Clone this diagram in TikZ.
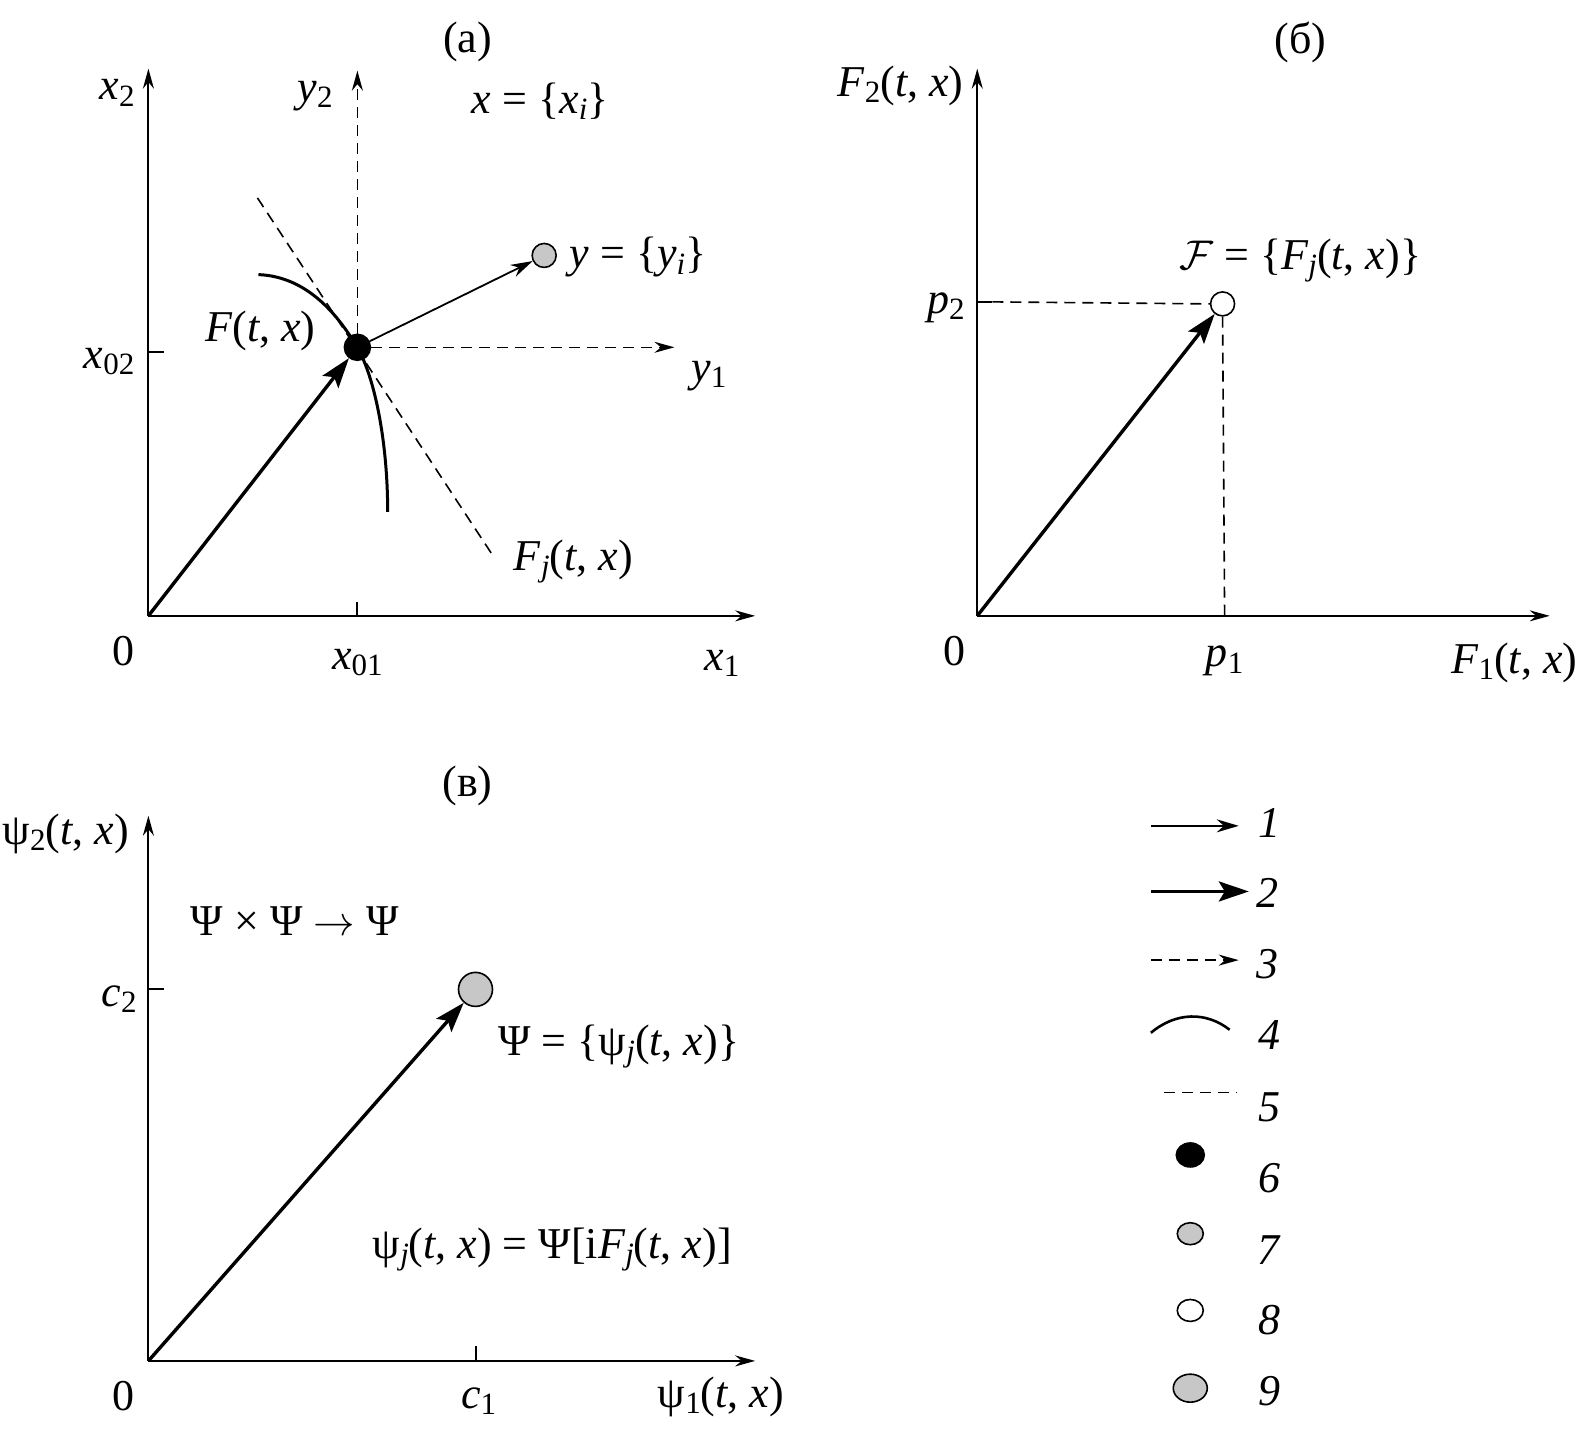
\documentclass[tikz,border=0pt]{standalone}
\usepackage{fontspec}
\setmainfont{Liberation Serif}
\usetikzlibrary{arrows.meta,shapes.geometric}
\newcommand\mi[1]{\textit{#1}}
\newcommand\sbs[1]{\raisebox{-0.3ex}{\fontsize{15.5}{17}\selectfont #1}}
\definecolor{dotgray}{gray}{0.78}
\begin{document}
\begin{tikzpicture}[x=0.5048pt,y=-0.5048pt,
  font=\fontsize{22}{25}\selectfont,
  axis/.style={line width=1pt,-{Stealth[length=10pt,width=5.5pt]}},
  thinarr/.style={line width=0.9pt,-{Stealth[length=11pt,width=6.5pt]}},
  thickarr/.style={line width=1.7pt,-{Stealth[length=15pt,width=10pt,inset=3pt]}},
  dsh/.style={line width=0.8pt,dash pattern=on 5.5pt off 3.5pt},
  dsharr/.style={dsh,-{Stealth[length=10pt,width=5.5pt]}},
  curv/.style={line width=1.5pt},
  bdot/.style={circle,draw,fill=black,line width=0.8pt,inner sep=0pt,minimum size=13pt},
  gdot/.style={circle,draw,fill=dotgray,line width=0.8pt,inner sep=0pt,minimum size=12pt},
  wdot/.style={circle,draw,fill=white,line width=0.8pt,inner sep=0pt,minimum size=12pt},
  bgdot/.style={circle,draw,fill=dotgray,line width=0.8pt,inner sep=0pt,minimum size=17pt},
  leg/.style={ellipse,draw,line width=0.8pt,inner sep=0pt},
  lbl/.style={inner sep=0pt}
]
\useasboundingbox (0,0) rectangle (1568,1433);

% ---------------- panel (a)
\node[lbl] (ta) at (463,42) {(а)};
\coordinate (Oa) at (147,610);
\coordinate (Xa) at (748,610);
\coordinate (Ya) at (147,68);
\draw[axis] (Oa) -- (Xa);
\draw[axis] (Oa) -- (Ya);
\draw[line width=1pt] (147,349) -- (162,349);
\draw[line width=1pt] (354,610) -- (354,596);
\coordinate (Ta) at (255,196);
\coordinate (Tb) at (488,550);
\draw[dsh] (Ta) -- (Tb);
\draw[curv] (256,272) .. controls (308,274) and (338,318) .. (354,344)
            .. controls (372,376) and (384,440) .. (384,507);
\node[bdot] (P) at (354,344) {};
\node[gdot] (Q) at (539,253) {};
\coordinate (Y2) at (354,70);
\coordinate (Y1) at (668,344);
\draw[dsharr] (P) -- (Y2);
\draw[dsharr] (P) -- (Y1);
\draw[thinarr] (P) -- (Q);
\draw[thickarr] (Oa) -- (P);
\node[lbl] (lx2) at (116,92) {\mi{x}\sbs{2}};
\node[lbl] (ly2) at (312,95) {\mi{y}\sbs{2}};
\node[lbl] (lxx) at (535,100) {\mi{x} = \{\mi{x}\sbs{\mi{i}}\}};
\node[lbl] (lyy) at (632,255) {\mi{y} = \{\mi{y}\sbs{\mi{i}}\}};
\node[lbl] (lF) at (258,328) {\mi{F}(\mi{t}, \mi{x})};
\node[lbl] (lx02) at (108,358) {\mi{x}\sbs{02}};
\node[lbl] (ly1) at (702,373) {\mi{y}\sbs{1}};
\node[lbl] (lFj) at (568,556) {\mi{F}\sbs{\mi{j}}(\mi{t}, \mi{x})};
\node[lbl] (l0a) at (122,645) {0};
\node[lbl] (lx01) at (354,656) {\mi{x}\sbs{01}};
\node[lbl] (lx1) at (715,657) {\mi{x}\sbs{1}};

% ---------------- panel (b)
\node[lbl] (tb) at (1288,42) {(б)};
\coordinate (Ob) at (968,610);
\coordinate (Xb) at (1535,610);
\coordinate (Yb) at (968,68);
\draw[axis] (Ob) -- (Xb);
\draw[axis] (Ob) -- (Yb);
\coordinate (p2t) at (968,299);
\coordinate (p1t) at (1213,610);
\node[wdot] (R) at (1211,301) {};
\draw[line width=1pt] (p2t) -- ++(15,0) coordinate (p2e);
\draw[dsh] (p2e) -- (R.west);
\draw[dsh] (R.south) -- (p1t);
\draw[thickarr] (Ob) -- (R);
\node[lbl] (lF2) at (892,85) {\mi{F}\sbs{2}(\mi{t}, \mi{x})};
\node[lbl] (l0b) at (945,645) {0};
\node[lbl] (lp1) at (1213,655) {\mi{p}\sbs{1}};
\node[lbl] (lF1) at (1500,657) {\mi{F}\sbs{1}(\mi{t}, \mi{x})};
\node[lbl] (lp2) at (937,305) {\mi{p}\sbs{2}};
\node[lbl] (lFF) at (1288,258) {$\mathcal{F}$ = \{\mi{F}\sbs{\mi{j}}(\mi{t}, \mi{x})\}};

% ---------------- panel (c)
\node[lbl] (tc) at (463,778) {(в)};
\coordinate (Oc) at (147,1348);
\coordinate (Xc) at (748,1348);
\coordinate (Yc) at (147,808);
\draw[axis] (Oc) -- (Xc);
\draw[axis] (Oc) -- (Yc);
\draw[line width=1pt] (147,980) -- (162,980);
\draw[line width=1pt] (471,1348) -- (471,1333);
\node[bgdot] (S) at (471,980) {};
\draw[thickarr] (Oc) -- (S);
\node[lbl] (lpsi2) at (65,826) {ψ\sbs{2}(\mi{t}, \mi{x})};
\node[lbl] (l0c) at (122,1383) {0};
\node[lbl] (lc1) at (474,1388) {\mi{c}\sbs{1}};
\node[lbl] (lpsi1) at (714,1384) {ψ\sbs{1}(\mi{t}, \mi{x})};
\node[lbl] (lc2) at (118,990) {\mi{c}\sbs{2}};
\node[lbl] (lPPP) at (292,912) {Ψ × Ψ $\rightarrow$ Ψ};
\node[lbl] (lPsi) at (613,1037) {Ψ = \{ψ\sbs{\mi{j}}(\mi{t}, \mi{x})\}};
\node[lbl] (lpsij) at (547,1238) {ψ\sbs{\mi{j}}(\mi{t}, \mi{x}) = Ψ[i\mi{F}\sbs{\mi{j}}(\mi{t}, \mi{x})]};

% ---------------- legend
\coordinate (a1s) at (1140,818); \coordinate (a1e) at (1227,818);
\draw[thinarr] (a1s) -- (a1e);
\node[lbl] (n1) at (1257,815) {\mi{1}};
\coordinate (a2s) at (1140,883); \coordinate (a2e) at (1237,883);
\draw[thickarr] (a2s) -- (a2e);
\node[lbl] (n2) at (1255,884) {\mi{2}};
\coordinate (a3s) at (1140,951); \coordinate (a3e) at (1227,951);
\draw[dsharr] (a3s) -- (a3e);
\node[lbl] (n3) at (1255,955) {\mi{3}};
\coordinate (a4s) at (1140,1023); \coordinate (a4e) at (1218,1020);
\draw[line width=1.3pt] (a4s) .. controls (1165,1002) and (1195,1002) .. (a4e);
\node[lbl] (n4) at (1257,1025) {\mi{4}};
\coordinate (a5s) at (1153,1082); \coordinate (a5e) at (1225,1082);
\draw[dsh] (a5s) -- (a5e);
\node[lbl] (n5) at (1257,1097) {\mi{5}};
\node[leg,fill=black,minimum width=14pt,minimum height=12pt] (d6) at (1179,1144) {};
\node[lbl] (n6) at (1257,1167) {\mi{6}};
\node[leg,fill=dotgray,minimum width=13pt,minimum height=11pt] (d7) at (1179,1222) {};
\node[lbl] (n7) at (1257,1238) {\mi{7}};
\node[leg,fill=white,minimum width=13pt,minimum height=11pt] (d8) at (1179,1298) {};
\node[lbl] (n8) at (1257,1308) {\mi{8}};
\node[leg,fill=dotgray,minimum width=17pt,minimum height=14pt] (d9) at (1179,1375) {};
\node[lbl] (n9) at (1257,1378) {\mi{9}};
\end{tikzpicture}
\end{document}
